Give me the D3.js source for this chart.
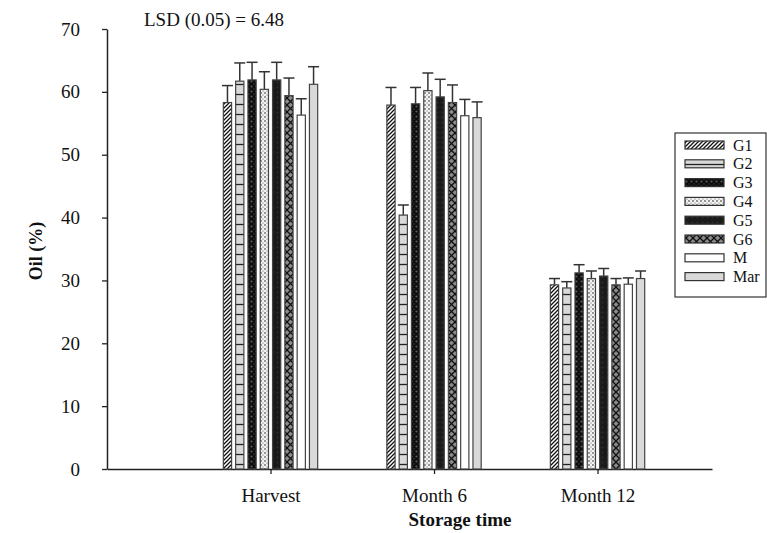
<!DOCTYPE html>
<html><head><meta charset="utf-8">
<script src="https://cdn.jsdelivr.net/npm/d3@7"></script>
<style>body{margin:0;background:#fff}svg{display:block}text{font-family:"Liberation Serif","Times New Roman",serif;fill:#111}</style>
</head><body><svg id="c" width="767" height="533"></svg>
<script>
const categories = ["Harvest", "Month 6", "Month 12"];
const series = ["G1", "G2", "G3", "G4", "G5", "G6", "M", "Mar"];
const harvest = [58.3, 61.7, 61.9, 60.4, 61.9, 59.4, 56.3, 61.2];
const month6 = [57.9, 40.4, 58.1, 60.2, 59.2, 58.3, 56.2, 55.9];
const month12 = [29.3, 28.8, 31.2, 30.3, 30.7, 29.3, 29.4, 30.3];
const errHarvest = [2.7, 2.9, 2.8, 2.8, 2.8, 2.8, 2.6, 2.8];
const errMonth6 = [2.8, 1.6, 2.6, 2.8, 2.8, 2.8, 2.6, 2.5];
const errMonth12 = [1.0, 1.0, 1.3, 1.2, 1.2, 1.0, 1.0, 1.2];
const yTicks = [0, 10, 20, 30, 40, 50, 60, 70];
const lsdText = "LSD (0.05) = 6.48";

const values = [harvest, month6, month12];
const errs = [errHarvest, errMonth6, errMonth12];
const FONT = "Liberation Serif";

const svg = d3.select("#c");
const defs = svg.append("defs");

function pat(id, w, h, bg, draw) {
  const p = defs.append("pattern").attr("id", id).attr("patternUnits", "userSpaceOnUse")
    .attr("width", w).attr("height", h);
  p.append("rect").attr("width", w).attr("height", h).attr("fill", bg);
  draw(p);
}
pat("pG1", 4, 4, "#fff", p => {
  p.append("path").attr("d", "M-1,1 l2,-2 M0,4 l4,-4 M3,5 l2,-2").attr("stroke", "#111").attr("stroke-width", 1.3);
});
pat("pG2", 10, 10, "#d9d9d9", p => {
  p.append("line").attr("x1", 0).attr("x2", 10).attr("y1", 4.5).attr("y2", 4.5).attr("stroke", "#222").attr("stroke-width", 1.3);
});
pat("pG3", 5, 5, "#0d0d0d", p => {
  p.append("circle").attr("cx", 1.5).attr("cy", 1.5).attr("r", 1.1).attr("fill", "#5a5a5a");
  p.append("circle").attr("cx", 4).attr("cy", 4).attr("r", 0.8).attr("fill", "#3a3a3a");
});
pat("pG4", 4, 4, "#f2f2f2", p => {
  p.append("circle").attr("cx", 1).attr("cy", 1).attr("r", 0.8).attr("fill", "#222");
  p.append("circle").attr("cx", 3).attr("cy", 3).attr("r", 0.6).attr("fill", "#555");
});
pat("pG5", 5, 5, "#1a1a1a", p => {
  p.append("circle").attr("cx", 2.5).attr("cy", 2.5).attr("r", 1).attr("fill", "#2e2e2e");
});
pat("pG6", 7, 7, "#8a8a8a", p => {
  p.append("path").attr("d", "M0,0 L7,7 M7,0 L0,7").attr("stroke", "#111").attr("stroke-width", 1.3);
});
const fills = ["url(#pG1)", "url(#pG2)", "url(#pG3)", "url(#pG4)", "url(#pG5)", "url(#pG6)", "#ffffff", "#d9d9d9"];

const x = d3.scaleLinear().domain([0, 3.7]).range([107, 712]);
const y = d3.scaleLinear().domain([0, 70]).range([469, 29]);
const sub = d3.scaleBand().domain(series).range([-49.2, 49.2]).paddingInner(0.33).paddingOuter(0.165);

// y axis
const ya = svg.append("g").attr("transform", "translate(107,0)")
  .call(d3.axisLeft(y).tickValues(yTicks).tickSize(5).tickSizeOuter(0).tickPadding(22));
ya.attr("font-family", FONT);
ya.selectAll("text").style("font-size", "19px").style("font-family", FONT);
ya.select(".domain").attr("stroke", "#222").attr("stroke-width", 1.5);
ya.selectAll(".tick line").attr("stroke", "#222").attr("stroke-width", 1.3);

// x axis
const xa = svg.append("g").attr("transform", "translate(0,469)")
  .call(d3.axisBottom(x).tickValues([1, 2, 3]).tickFormat(d => categories[d - 1]).tickSize(5).tickSizeOuter(0).tickPadding(15));
xa.attr("font-family", FONT);
xa.selectAll("text").style("font-size", "19px").style("font-family", FONT);
xa.select(".domain").attr("stroke", "#222").attr("stroke-width", 1.5);
xa.selectAll(".tick line").attr("stroke", "#222").attr("stroke-width", 1.3);

// bars
const flat = [];
categories.forEach((c, ci) => series.forEach((s, si) => flat.push({ci, si, v: values[ci][si], e: errs[ci][si]})));
const bars = svg.append("g");
bars.selectAll("g.eb").data(flat).join("g").attr("class", "eb").each(function (d) {
  const g = d3.select(this);
  const cx = x(d.ci + 1) + sub(series[d.si]) + sub.bandwidth() / 2;
  g.append("line").attr("x1", cx).attr("x2", cx).attr("y1", y(d.v)).attr("y2", y(d.v + d.e))
    .attr("stroke", "#333").attr("stroke-width", 1.5);
  g.append("line").attr("x1", cx - 5.5).attr("x2", cx + 5.5).attr("y1", y(d.v + d.e)).attr("y2", y(d.v + d.e))
    .attr("stroke", "#333").attr("stroke-width", 1.5);
});
bars.selectAll("rect").data(flat).join("rect")
  .attr("x", d => x(d.ci + 1) + sub(series[d.si]))
  .attr("width", sub.bandwidth())
  .attr("y", d => y(d.v))
  .attr("height", d => y(0) - y(d.v))
  .attr("fill", d => fills[d.si])
  .attr("stroke", "#444").attr("stroke-width", 1.2);

// titles
svg.append("text").attr("x", 144).attr("y", 26).style("font-size", "19px").style("font-family", FONT).text(lsdText);
svg.append("text").attr("x", 460).attr("y", 526).attr("text-anchor", "middle")
  .style("font-size", "19px").style("font-weight", "bold").style("font-family", FONT).text("Storage time");
svg.append("text").attr("transform", "translate(42,251) rotate(-90)").attr("text-anchor", "middle")
  .style("font-size", "18px").style("font-weight", "bold").style("font-family", FONT).text("Oil (%)");

// legend
const lg = svg.append("g");
lg.append("rect").attr("x", 675).attr("y", 133).attr("width", 91).attr("height", 164)
  .attr("fill", "#fff").attr("stroke", "#333").attr("stroke-width", 1.2);
const ly = d3.scalePoint().domain(series).range([145, 276.6]);
series.forEach((s, i) => {
  lg.append("rect").attr("x", 685).attr("y", ly(s) - 4).attr("width", 39).attr("height", 8)
    .attr("fill", fills[i]).attr("stroke", "#333").attr("stroke-width", 1.2);
  lg.append("text").attr("x", 733).attr("y", ly(s)).attr("dy", "0.35em")
    .style("font-size", "16px").style("font-family", FONT).text(s);
});
</script></body></html>
